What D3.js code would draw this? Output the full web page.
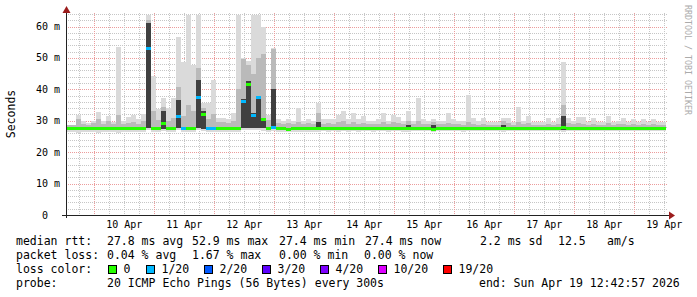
<!DOCTYPE html>
<html>
<head>
<meta charset="utf-8">
<script src="https://d3js.org/d3.v7.min.js"></script>
<style>
body { margin: 0; background: #fff; }
text { font-family: "DejaVu Sans Mono", monospace; white-space: pre; }
</style>
</head>
<body>
<div id="chart"></div>
<script>
// time window: 10 days ending at the probe's last update
var endTime = new Date(2026, 3, 19, 12, 42, 57);
var startTime = d3.timeDay.offset(endTime, -10);
var binHours = 2;

// one value per 2 hour bin, left edge first (ms)
var medRtt = [
  27.5,27.5,27.6,27.5,27.5,27.5,27.6,27.5,27.5,27.5,27.6,27.5,
  27.5,27.5,27.5,27.6,52.9,27.6,27.5,29.2,27.5,27.5,31.3,27.5,
  27.6,27.5,37.3,32.1,27.5,27.5,27.5,27.5,27.5,27.5,27.6,36.2,
  41.6,31.7,37.3,30.4,27.5,27.9,27.5,27.5,27.2,27.5,27.5,27.5,
  27.5,27.5,27.6,27.5,27.5,27.5,27.5,27.5,27.5,27.5,27.5,27.5,
  27.5,27.5,27.5,27.5,27.5,27.5,27.5,27.5,27.6,27.5,27.6,27.5,
  27.5,27.2,27.5,27.5,27.5,27.5,27.6,27.5,27.6,27.5,27.5,27.5,
  27.5,27.5,27.5,27.6,27.5,27.5,27.5,27.5,27.5,27.5,27.5,27.5,
  27.5,27.5,27.5,27.7,27.5,27.5,27.5,27.5,27.5,27.5,27.5,27.5,
  27.5,27.5,27.5,27.5,27.5,27.5,27.5,27.5,27.5,27.5,27.5,27.5
];
// lost pings out of 20
var lossCnt = [
  0,0,0,0,0,0,0,0,0,0,0,0,
  0,0,0,0,1,0,0,0,0,0,1,1,
  0,0,1,0,1,1,0,0,0,0,0,1,
  0,1,1,0,0,1,0,0,0,0,0,0,
  0,0,0,0,0,0,0,0,0,0,0,0,
  0,0,0,0,0,0,0,0,0,0,0,0,
  0,0,0,0,0,0,0,0,0,0,0,0,
  0,0,0,0,0,0,0,0,0,0,0,0,
  0,0,0,0,0,0,0,0,0,0,0,0,
  0,0,0,0,0,0,0,0,0,0,0,0
];
var minRtt = [
  26.3,26.5,26.2,26.4,26.5,26.3,26.2,26.4,26.3,26.5,26.2,26.4,
  26.3,26.4,26.5,26.3,26.9,26.4,26.3,26.8,26.4,26.3,26.9,26.4,
  26.3,26.5,26.9,26.8,26.4,26.3,26.5,26.4,26.3,26.5,26.4,26.9,
  26.9,26.9,26.9,26.8,26.4,26.8,26.5,26.4,26.3,26.5,26.4,26.5,
  26.4,26.5,26.3,26.6,26.5,26.7,26.4,26.6,26.5,26.7,26.5,26.6,
  26.7,26.5,26.6,26.8,26.5,26.6,26.8,26.5,26.4,26.7,26.6,26.7,
  26.6,26.3,26.7,26.8,26.6,26.7,26.8,26.5,26.7,26.8,26.6,26.7,
  26.8,26.7,26.6,26.5,26.7,26.8,26.7,26.8,26.6,26.7,26.8,26.7,
  26.7,26.8,26.6,26.5,26.7,26.8,26.7,26.8,26.7,26.6,26.8,26.7,
  26.8,26.7,26.8,26.6,26.7,26.8,26.7,26.8,26.7,26.8,26.7,26.8
];
// lower / upper edge of the dark smoke
var q1Rtt = [
  27.2,27.2,27.2,27.2,27.2,27.2,27.2,27.2,27.2,27.2,27.2,27.2,
  27.2,27.2,27.2,27.2,27.6,27.2,27.2,27.5,27.2,27.2,27.6,27.2,
  27.2,27.2,27.6,27.5,27.2,27.2,27.2,27.2,27.2,27.2,27.2,27.6,
  27.8,27.6,27.6,27.6,27.2,27.5,27.2,27.2,27.2,27.2,27.2,27.2,
  27.2,27.2,27.2,27.2,27.2,27.2,27.2,27.2,27.2,27.2,27.2,27.2,
  27.2,27.2,27.2,27.2,27.2,27.2,27.2,27.2,27.2,27.2,27.2,27.2,
  27.2,27.2,27.2,27.2,27.2,27.2,27.2,27.2,27.2,27.2,27.2,27.2,
  27.2,27.2,27.2,27.2,27.2,27.2,27.2,27.2,27.2,27.2,27.2,27.2,
  27.2,27.2,27.2,27.2,27.2,27.2,27.2,27.2,27.2,27.2,27.2,27.2,
  27.2,27.2,27.2,27.2,27.2,27.2,27.2,27.2,27.2,27.2,27.2,27.2
];
var q3Rtt = [
  27.8,27.8,27.8,27.8,27.8,27.8,27.8,27.8,27.8,27.8,27.8,27.8,
  27.8,27.8,27.8,27.8,61.0,27.8,27.8,33.0,27.8,27.8,36.6,27.8,
  27.8,27.8,42.9,33.0,27.8,27.8,27.8,27.8,27.8,27.8,27.8,37.0,
  42.5,32.5,38.0,31.0,27.8,40.0,27.8,27.8,27.8,27.8,27.8,27.8,
  27.8,27.8,29.6,27.8,27.8,27.8,27.8,27.8,27.8,27.8,27.8,27.8,
  27.8,27.8,27.8,27.8,27.8,27.8,27.8,27.8,28.8,27.8,27.8,27.8,
  27.8,28.8,27.8,27.8,27.8,27.8,27.8,27.8,27.8,27.8,27.8,27.8,
  27.8,27.8,27.8,28.8,27.8,27.8,27.8,27.8,27.8,27.8,27.8,27.8,
  27.8,27.8,27.8,31.6,27.8,27.8,27.8,27.8,27.8,27.8,27.8,27.8,
  27.8,27.8,27.8,27.8,27.8,27.8,27.8,27.8,27.8,27.8,27.8,27.8
];
// top of the mid grey smoke
var p90Rtt = [
  28.6,28.7,30.7,28.9,28.8,29.2,30.6,28.9,29.8,28.9,31.8,29.0,
  29.4,29.6,29.0,29.8,62.0,33.0,30.2,34.5,30.0,31.0,40.9,31.5,
  35.0,33.0,46.7,34.0,30.5,32.0,29.5,29.6,29.3,29.8,40.0,49.8,
  47.7,45.0,50.0,51.4,30.2,52.8,29.2,29.0,29.3,28.9,29.6,29.0,
  29.2,28.9,32.4,29.1,29.2,29.0,29.6,29.8,29.0,29.5,28.9,29.4,
  28.9,29.0,29.1,29.5,28.9,29.5,29.3,28.9,30.0,28.9,30.0,29.0,
  28.9,29.5,28.9,28.9,29.4,29.0,28.9,28.8,29.6,29.1,28.8,29.0,
  28.8,28.8,28.8,29.8,29.2,28.8,29.5,28.9,29.3,28.8,28.8,28.8,
  29.0,28.8,29.0,35.0,29.2,28.9,29.2,29.1,28.8,29.0,28.8,28.8,
  29.2,28.8,28.9,29.0,28.8,28.9,28.8,29.0,28.8,29.0,28.8,28.8
];
var maxRtt = [
  28.6,28.8,31.8,29.8,29.2,30.0,32.8,29.8,31.4,29.5,53.4,29.8,
  31.2,31.7,30.5,32.2,63.7,44.2,33.9,37.1,34.0,37.3,56.7,48.7,
  63.7,47.7,63.7,35.5,35.6,42.9,30.8,31.0,30.5,32.4,63.7,50.0,
  49.0,63.7,63.7,60.0,31.7,53.0,30.4,30.0,30.7,29.8,34.2,30.0,
  30.5,30.0,35.5,30.5,30.5,30.4,31.8,33.1,30.4,32.6,30.4,31.5,
  30.0,30.0,30.4,32.6,30.0,31.8,31.3,30.0,33.0,30.0,37.4,30.4,
  30.0,30.7,30.0,30.0,32.6,30.4,30.0,30.0,38.1,30.8,29.8,30.8,
  29.5,29.5,29.5,30.8,30.8,29.5,34.4,29.8,31.6,29.6,29.6,29.6,
  30.8,29.6,30.8,48.7,30.8,30.0,31.1,31.1,29.6,30.8,29.6,29.6,
  31.6,29.6,30.0,30.8,29.6,30.4,29.6,30.4,29.6,30.4,29.6,29.6
];

var yTicks = [0, 10, 20, 30, 40, 50, 60];
var lossLevels = [0, 1, 2, 3, 4, 10, 19];
var lossLabels = ["0", "1/20", "2/20", "3/20", "4/20", "10/20", "19/20"];
var lossColors = ["#26ff00", "#00b8ff", "#0059ff", "#5e00ff", "#7e00ff", "#dd00ff", "#ff0000"];

var width = 697, height = 297;
var plotL = 66, plotR = 666, plotT = 13, plotB = 215;

var svg = d3.select("#chart").append("svg")
  .attr("width", width)
  .attr("height", height);

var x = d3.scaleTime().domain([startTime, endTime]).range([plotL, plotR]);
var y = d3.scaleLinear().domain([0, 64.3]).range([plotB, plotT]);

var bins = medRtt.map(function(m, i) {
  return {
    t0: d3.timeHour.offset(startTime, i * binHours),
    t1: d3.timeHour.offset(startTime, (i + 1) * binHours),
    med: m, loss: lossCnt[i], lo: minRtt[i], q1: q1Rtt[i],
    q3: q3Rtt[i], p90: p90Rtt[i], hi: maxRtt[i]
  };
});

// grid (under the smoke)
var grid = svg.append("g").attr("stroke-width", 1).attr("stroke-dasharray", "1,1");
var hLines = d3.range(2, 64.3, 2);
grid.selectAll(".hl")
  .data(hLines)
  .enter().append("line")
  .attr("x1", plotL).attr("x2", plotR + 2)
  .attr("y1", function(d) { return Math.round(y(d)) + 0.5; })
  .attr("y2", function(d) { return Math.round(y(d)) + 0.5; })
  .attr("stroke", function(d) { return d % 10 === 0 ? "#ec9c9c" : "#c6c6c6"; });

var sixHours = d3.timeHour.every(6).range(startTime, endTime);
grid.selectAll(".vl")
  .data(sixHours)
  .enter().append("line")
  .attr("x1", function(d) { return Math.round(x(d)) + 0.5; })
  .attr("x2", function(d) { return Math.round(x(d)) + 0.5; })
  .attr("y1", plotT).attr("y2", plotB)
  .attr("stroke", function(d) { return d.getHours() === 0 ? "#ec9c9c" : "#c6c6c6"; });

// smoke, light to dark
var layers = [
  { bot: "lo", top: "hi", color: "#dadada" },
  { bot: "q1", top: "p90", color: "#bababa" },
  { bot: "q1", top: "q3", color: "#404040" }
];
layers.forEach(function(l) {
  svg.append("g")
    .attr("shape-rendering", "crispEdges")
    .selectAll("rect")
    .data(bins)
    .enter().append("rect")
    .attr("x", function(d) { return x(d.t0); })
    .attr("width", function(d) { return x(d.t1) - x(d.t0); })
    .attr("y", function(d) { return y(d[l.top]); })
    .attr("height", function(d) { return y(d[l.bot]) - y(d[l.top]); })
    .attr("fill", l.color);
});

// median, coloured by loss
svg.append("g")
  .attr("shape-rendering", "crispEdges")
  .selectAll("rect")
  .data(bins)
  .enter().append("rect")
  .attr("x", function(d) { return x(d.t0); })
  .attr("width", function(d) { return x(d.t1) - x(d.t0); })
  .attr("y", function(d) { return y(d.med) - 1.5; })
  .attr("height", 3)
  .attr("fill", function(d) { return lossColors[d3.bisectRight(lossLevels, d.loss) - 1]; });

// axes
var axis = svg.append("g");
axis.append("line")
  .attr("x1", plotL - 4).attr("x2", plotR + 4)
  .attr("y1", plotB + 0.5).attr("y2", plotB + 0.5)
  .attr("stroke", "#222");
axis.append("line")
  .attr("x1", plotL + 0.5).attr("x2", plotL + 0.5)
  .attr("y1", plotB + 3).attr("y2", 11)
  .attr("stroke", "#222");
axis.append("path")
  .attr("d", "M" + (plotL - 3.5) + ",13L" + (plotL + 0.5) + ",6L" + (plotL + 4.5) + ",13Z")
  .attr("fill", "#9b1c1c");
axis.append("path")
  .attr("d", "M" + (plotR + 3) + "," + (plotB - 3.5) + "L" + (plotR + 9) + "," + (plotB + 0.5) + "L" + (plotR + 3) + "," + (plotB + 4.5) + "Z")
  .attr("fill", "#9b1c1c");

// y labels
svg.append("g").selectAll("text")
  .data(yTicks)
  .enter().append("text")
  .attr("x", 60)
  .attr("y", function(d) { return y(d) + 3.5; })
  .attr("text-anchor", "end")
  .attr("font-size", 10)
  .text(function(d) { return d === 0 ? "0  " : d + " m"; });

// x labels at noon
var days = d3.timeDay.range(startTime, endTime);
svg.append("g").selectAll("text")
  .data(days)
  .enter().append("text")
  .attr("x", function(d) { return x(d3.timeHour.offset(d, 12)); })
  .attr("y", 228)
  .attr("text-anchor", "middle")
  .attr("font-size", 10)
  .text(function(d) { return d3.timeFormat("%d %b")(d); });

svg.append("text")
  .attr("transform", "translate(11,114) rotate(-90)")
  .attr("text-anchor", "middle")
  .attr("dominant-baseline", "central")
  .attr("font-size", 11.5)
  .text("Seconds");

svg.append("text")
  .attr("transform", "translate(688,5) rotate(90)")
  .attr("dominant-baseline", "central")
  .attr("font-size", 8.3)
  .attr("fill", "#ababab")
  .text("RRDTOOL / TOBI OETIKER");

// legend
var legendRows = [
  [[16, "median rtt:"], [107, "27.8 ms avg"], [192, "52.9 ms max"], [279, "27.4 ms min"],
   [365, "27.4 ms now"], [480, "2.2 ms sd"], [558, "12.5"], [607, "am/s"]],
  [[16, "packet loss:"], [107, "0.04 % avg"], [192, "1.67 % max"], [279, "0.00 % min"], [364, "0.00 % now"]],
  [[16, "loss color:"]],
  [[16, "probe:"], [107, "20 ICMP Echo Pings (56 Bytes) every 300s"], [479, "end: Sun Apr 19 12:42:57 2026"]]
];
var rowY = [245, 259, 273, 287];
legendRows.forEach(function(row, r) {
  svg.append("g").selectAll("text")
    .data(row)
    .enter().append("text")
    .attr("x", function(d) { return d[0]; })
    .attr("y", rowY[r])
    .attr("font-size", 11.5)
    .text(function(d) { return d[1]; });
});

var boxX = [108, 146, 204, 262, 320, 378, 443];
var lg = svg.append("g").selectAll("g")
  .data(lossLabels)
  .enter().append("g")
  .attr("transform", function(d, i) { return "translate(" + boxX[i] + ",265)"; });
lg.append("rect")
  .attr("x", 0.5).attr("y", 0.5)
  .attr("width", 8).attr("height", 8)
  .attr("fill", function(d, i) { return lossColors[i]; })
  .attr("stroke", "#000");
lg.append("text")
  .attr("x", 15.5)
  .attr("y", 8)
  .attr("font-size", 11.5)
  .text(function(d) { return d; });
</script>
</body>
</html>
